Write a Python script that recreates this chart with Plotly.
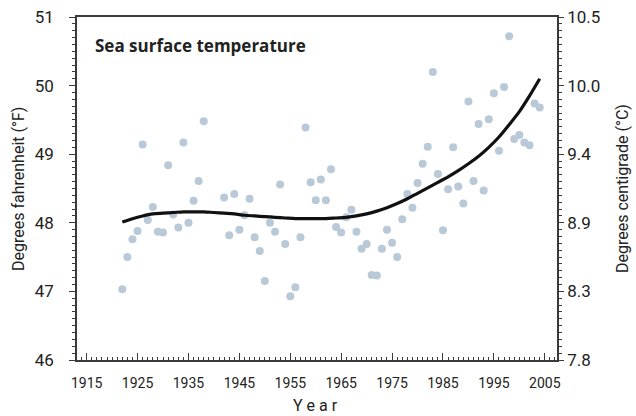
import plotly.graph_objects as go

years = [1922, 1923, 1924, 1925, 1926, 1927, 1928, 1929, 1930, 1931, 1932, 1933, 1934, 1935,
         1936, 1937, 1938, 1942, 1943, 1944, 1945, 1946, 1947, 1948, 1949, 1950, 1951, 1952,
         1953, 1954, 1955, 1956, 1957, 1958, 1959, 1960, 1961, 1962, 1963, 1964, 1965, 1966,
         1967, 1968, 1969, 1970, 1971, 1972, 1973, 1974, 1975, 1976, 1977, 1978, 1979, 1980,
         1981, 1982, 1983, 1984, 1985, 1986, 1987, 1988, 1989, 1990, 1991, 1992, 1993, 1994,
         1995, 1996, 1997, 1998, 1999, 2000, 2001, 2002, 2003, 2004]
temps_f = [47.03, 47.50, 47.76, 47.88, 49.14, 48.04, 48.23, 47.87, 47.86, 48.84, 48.12, 47.93,
           49.17, 48.00, 48.32, 48.61, 49.48, 48.37, 47.82, 48.42, 47.90, 48.11, 48.35, 47.79,
           47.59, 47.15, 48.00, 47.87, 48.56, 47.69, 46.93, 47.06, 47.79, 49.39, 48.59, 48.33,
           48.63, 48.33, 48.78, 47.94, 47.86, 48.08, 48.19, 47.87, 47.62, 47.69, 47.24, 47.23,
           47.62, 47.90, 47.71, 47.50, 48.05, 48.42, 48.22, 48.58, 48.86, 49.11, 50.20, 48.71,
           47.89, 48.49, 49.10, 48.53, 48.28, 49.77, 48.61, 49.44, 48.47, 49.51, 49.89, 49.05,
           49.98, 50.72, 49.22, 49.28, 49.17, 49.13, 49.74, 49.68]

trend_years = [1922, 1924, 1926, 1928, 1930, 1932, 1934, 1936, 1938, 1940, 1942, 1944, 1946,
               1948, 1950, 1952, 1954, 1956, 1958, 1960, 1962, 1964, 1966, 1968, 1970, 1972,
               1974, 1976, 1978, 1980, 1982, 1984, 1986, 1988, 1990, 1992, 1994, 1996, 1998,
               2000, 2002, 2004]
trend_f = [48.01, 48.06, 48.10, 48.13, 48.14, 48.15, 48.16, 48.16, 48.16, 48.15, 48.14, 48.13,
           48.11, 48.10, 48.09, 48.08, 48.07, 48.06, 48.06, 48.06, 48.06, 48.07, 48.08, 48.10,
           48.13, 48.17, 48.22, 48.28, 48.35, 48.43, 48.51, 48.59, 48.67, 48.76, 48.86, 48.97,
           49.10, 49.25, 49.43, 49.62, 49.85, 50.10]

f_ticks = [46, 47, 48, 49, 50, 51]
c_ticktext = ["7.8", "8.3", "8.9", "9.4", "10.0", "10.5"]
x_ticks = [1915, 1925, 1935, 1945, 1955, 1965, 1975, 1985, 1995, 2005]

FONT = "Roboto"
AX = "#3a3a3a"
TXT = "#222222"

W, H = 636, 416
pl, pr, pt, pb = 77, 79, 17, 56
pw, ph = W - pl - pr, H - pt - pb


def px_x(x):
    return (x - pl) / pw


def px_y(y):
    return (H - pb - y) / ph


fig = go.Figure()
fig.add_trace(go.Scatter(x=years, y=temps_f, mode="markers",
                         marker=dict(size=8, color="#b9c9d7"), showlegend=False,
                         hoverinfo="x+y"))
fig.add_trace(go.Scatter(x=trend_years, y=trend_f, mode="lines",
                         line=dict(color="#111111", width=3.2, shape="spline", smoothing=0.8),
                         showlegend=False))
fig.add_trace(go.Scatter(x=[trend_years[0]], y=[trend_f[0]], yaxis="y2", mode="markers",
                         marker=dict(size=1, opacity=0), showlegend=False, hoverinfo="skip"))

fig.update_layout(
    width=W, height=H,
    margin=dict(l=pl, r=pr, t=pt, b=pb, autoexpand=False),
    paper_bgcolor="white", plot_bgcolor="white",
    font=dict(family=FONT, color=TXT),
    xaxis=dict(range=[1913.1, 2007.4], tickvals=x_ticks, ticks="inside", ticklen=7,
               tickwidth=1, tickcolor=AX, showline=True, linecolor=AX, linewidth=1.5,
               mirror=True, showgrid=False, zeroline=False, automargin=False,
               tickfont=dict(size=14, family=FONT, color=TXT),
               ticklabelstandoff=9,
               minor=dict(dtick=1, tick0=1915, ticks="inside", ticklen=3.5, tickcolor=AX,
                          tickwidth=1, showgrid=False)),
    yaxis=dict(range=[46, 51], tickvals=f_ticks, ticks="outside", ticklen=6, tickwidth=1,
               tickcolor=AX, showline=True, linecolor=AX, linewidth=1.5, showgrid=False,
               zeroline=False, automargin=False,
               tickfont=dict(size=17, family=FONT, color=TXT),
               ticklabelstandoff=12,
               minor=dict(dtick=0.1, tick0=46, ticks="outside", ticklen=3, tickcolor=AX,
                          tickwidth=1, showgrid=False)),
    yaxis2=dict(range=[46, 51], overlaying="y", side="right", tickvals=f_ticks,
                ticktext=c_ticktext, ticks="outside", ticklen=5, tickwidth=1, tickcolor=AX,
                showline=True, linecolor=AX, linewidth=1.5, showgrid=False, zeroline=False,
                automargin=False,
                tickfont=dict(size=17, family=FONT, color=TXT),
                ticklabelstandoff=0,
                minor=dict(dtick=0.1, tick0=46, ticks="outside", ticklen=3, tickcolor=AX,
                           tickwidth=1, showgrid=False)),
    annotations=[
        dict(text="<b>Sea surface temperature</b>", xref="paper", yref="paper",
             x=px_x(93), y=px_y(46), xanchor="left", yanchor="middle", showarrow=False,
             font=dict(size=17, family="Open Sans", color=TXT)),
        dict(text="Degrees fahrenheit (°F)", xref="paper", yref="paper",
             x=px_x(18), y=px_y(189), textangle=-90, showarrow=False,
             xanchor="center", yanchor="middle",
             font=dict(size=16, family=FONT, color=TXT)),
        dict(text="Degrees centigrade (°C)", xref="paper", yref="paper",
             x=px_x(622), y=px_y(189), textangle=-90, showarrow=False,
             xanchor="center", yanchor="middle",
             font=dict(size=16, family=FONT, color=TXT)),
        dict(text="Y e a r", xref="paper", yref="paper",
             x=px_x(315), y=px_y(405), showarrow=False, xanchor="center", yanchor="middle",
             font=dict(size=16, family=FONT, color=TXT)),
    ],
)

fig.write_html("out.html", config={"displayModeBar": False},
               post_script="document.body.style.margin='0px';")
